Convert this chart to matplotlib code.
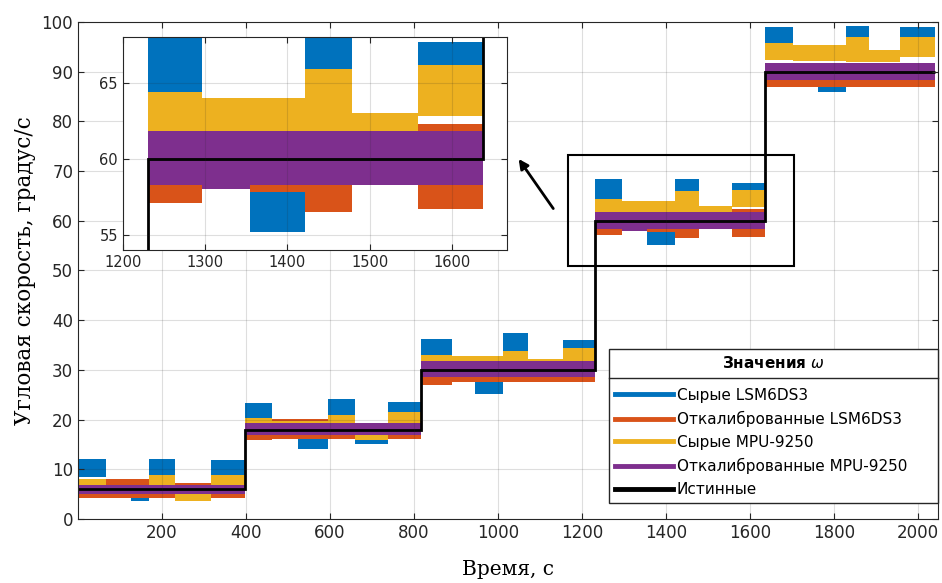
import matplotlib
matplotlib.use("Agg")
import matplotlib.pyplot as plt
from matplotlib.lines import Line2D
from matplotlib.patches import Rectangle

plt.rcParams['font.family'] = ['DejaVu Sans']

# --- data (noise envelopes per segment) ---
# raw LSM6DS3
blue_t = [1, 68, 128, 170, 231, 317, 398, 463, 524, 595, 660, 738, 818, 890, 945, 1013,
          1072, 1155, 1231, 1296, 1355, 1421, 1478, 1558, 1637, 1703, 1762, 1830, 1884, 1957, 2040]
blue_lo = [8.5, 5.0, 3.6, 8.9, 5.0, 8.9, 20.3, 16.8, 14.0, 20.6, 15.0, 20.9, 32.7, 29.0, 25.2,
           33.4, 27.6, 33.7, 64.1, 59.2, 55.2, 65.1, 58.4, 64.6, 95.7, 89.0, 86.0, 95.9, 87.8, 96.8]
blue_hi = [12.0, 6.8, 5.2, 12.0, 6.8, 11.9, 23.3, 19.0, 16.9, 24.2, 17.0, 23.6, 36.2, 31.0, 28.4,
           37.5, 29.0, 36.0, 68.5, 61.2, 59.1, 68.5, 59.5, 67.7, 99.0, 91.0, 88.3, 99.2, 89.5, 99.0]

# calibrated LSM6DS3
orange_t = [1, 68, 170, 398, 463, 595, 818, 890, 1231, 1296, 1355, 1421, 1478, 1558, 1637, 2040]
orange_lo = [4.3, 4.3, 4.3, 15.8, 16.0, 16.0, 27.0, 27.5, 57.1, 58.3, 57.8, 56.5, 58.4, 56.7, 87.0]
orange_hi = [7.2, 8.0, 7.2, 19.5, 20.2, 19.3, 31.0, 31.8, 61.5, 61.5, 61.6, 61.6, 61.8, 62.3, 91.8]

# raw MPU-9250
yellow_t = [1, 68, 170, 231, 317, 398, 463, 595, 660, 738, 818, 890, 1013, 1072, 1155,
            1231, 1296, 1421, 1478, 1558, 1637, 1703, 1830, 1884, 1957, 2040]
yellow_lo = [6.8, 5.2, 6.8, 3.6, 6.8, 19.2, 18.8, 19.3, 15.8, 19.3, 31.4, 31.3, 31.7, 31.0, 31.7,
             61.7, 61.5, 61.7, 61.4, 62.8, 92.4, 92.1, 92.0, 92.0, 93.0]
yellow_hi = [8.0, 6.8, 8.9, 5.2, 8.9, 20.4, 19.8, 21.0, 17.2, 21.6, 33.0, 32.7, 33.7, 32.2, 34.4,
             64.4, 64.0, 65.9, 63.0, 66.2, 95.7, 95.3, 97.0, 94.3, 97.0]

# calibrated MPU-9250
purple_t = [1, 398, 818, 1231, 1296, 1355, 1637, 2040]
purple_lo = [5.0, 16.9, 28.6, 58.3, 58.0, 58.3, 88.3]
purple_hi = [6.8, 19.3, 31.7, 61.8, 61.8, 61.8, 91.7]

# true values
true_t = [1, 398, 818, 1231, 1637, 2040]
true_val = [6, 18, 30, 60, 90]

labels = ['Сырые LSM6DS3', 'Откалиброванные LSM6DS3', 'Сырые MPU-9250',
          'Откалиброванные MPU-9250', 'Истинные']
colors = ['#0072BD', '#D95319', '#EDB120', '#7E2F8E', 'black']

series = [(blue_t, blue_lo, blue_hi), (orange_t, orange_lo, orange_hi),
          (yellow_t, yellow_lo, yellow_hi), (purple_t, purple_lo, purple_hi)]


def draw(ax, lw):
    for (t, lo, hi), c in zip(series, colors):
        ax.stairs(hi, t, baseline=lo, fill=True, color=c, lw=0)
    ax.stairs(true_val, true_t, baseline=None, color='black', lw=lw)


def style(ax, size):
    ax.tick_params(direction='in', top=True, right=True, labelsize=size,
                   colors='#262626', length=4)
    ax.grid(True, color='#262626', alpha=0.15, lw=0.8)
    for s in ax.spines.values():
        s.set_color('#262626')


fig = plt.figure(figsize=(9.42, 5.83), dpi=100)
ax = fig.add_axes([0.0828, 0.1098, 0.9130, 0.8525])
draw(ax, 2)
ax.set_xlim(1, 2048)
ax.set_ylim(0, 100)
ax.set_xticks(range(200, 2001, 200))
ax.set_yticks(range(0, 101, 10))
style(ax, 12)
ax.set_xlabel('Время, с', family='DejaVu Serif', fontsize=14.5, labelpad=13)
ax.set_ylabel('Угловая скорость, градус/с', family='DejaVu Serif', fontsize=15.5, labelpad=4)

# zoom box and arrow
ax.add_patch(Rectangle((1167, 50.9), 538, 22.3, fill=False, ec='black', lw=1.5, zorder=5))
ax.annotate('', xy=(1046, 72.9), xytext=(1136, 62.0),
            arrowprops=dict(arrowstyle='-|>', color='black', lw=2, mutation_scale=14))

# inset
ins = fig.add_axes([0.1303, 0.5712, 0.4082, 0.3648])
draw(ins, 2)
ins.set_xlim(1200, 1667)
ins.set_ylim(54, 68)
ins.set_xticks(range(1200, 1601, 100))
ins.set_yticks([55, 60, 65])
style(ins, 10.5)
ins.set_facecolor('white')

# legend
handles = [Line2D([], [], color=c, lw=3.5) for c in colors]
leg = ax.legend(handles, labels, title='Значения $\\omega$',
                title_fontproperties={'weight': 'bold', 'size': 11},
                loc='upper left', bbox_to_anchor=(0.6465, 0.1372, 0.3493, 0.2642),
                bbox_transform=fig.transFigure, mode='expand', borderaxespad=0,
                fontsize=11, handlelength=3.8, handletextpad=0.25, labelspacing=0.52,
                fancybox=False, framealpha=1, edgecolor='#262626', borderpad=0.4)
leg.get_frame().set_linewidth(1.0)
leg.set_zorder(10)
leg._legend_box.sep = 12

fig.canvas.draw()
inv = fig.transFigure.inverted()
fb = inv.transform(leg.get_frame().get_window_extent())
tb = inv.transform(leg.get_title().get_window_extent())
ysep = tb[0][1] - 0.011
fig.add_artist(Line2D([fb[0][0], fb[1][0]], [ysep, ysep], color='#262626', lw=1.0,
                      transform=fig.transFigure, zorder=11))

fig.savefig('out.png', dpi=100)
